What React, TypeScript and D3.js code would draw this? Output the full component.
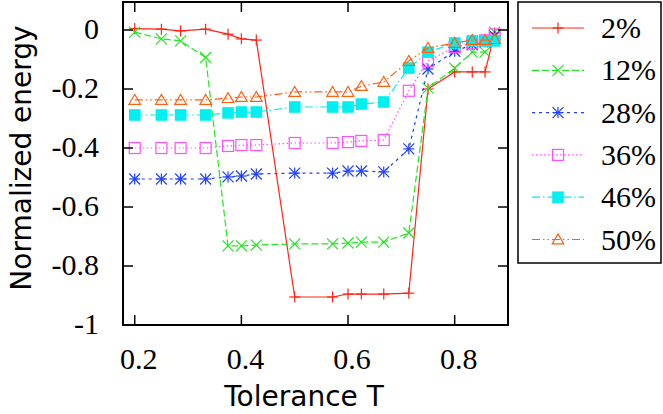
import React from "react";
import * as d3 from "d3";

const tolerance = [0.2, 0.25, 0.286, 0.333, 0.375, 0.4, 0.428, 0.5, 0.571, 0.6, 0.625, 0.667, 0.714, 0.75, 0.8, 0.833, 0.857, 0.875];
const s2 = [0.005, 0.003, -0.003, 0.003, -0.014, -0.03, -0.034, -0.905, -0.905, -0.895, -0.895, -0.895, -0.892, -0.2, -0.142, -0.142, -0.142, -0.01];
const s12 = [-0.007, -0.03, -0.037, -0.093, -0.732, -0.732, -0.729, -0.725, -0.725, -0.722, -0.719, -0.719, -0.688, -0.197, -0.129, -0.075, -0.075, -0.007];
const s28 = [-0.505, -0.505, -0.505, -0.505, -0.498, -0.495, -0.488, -0.485, -0.485, -0.478, -0.478, -0.481, -0.403, -0.132, -0.072, -0.05, -0.04, -0.02];
const s36 = [-0.4, -0.4, -0.4, -0.4, -0.393, -0.39, -0.39, -0.383, -0.383, -0.38, -0.376, -0.373, -0.206, -0.105, -0.058, -0.045, -0.035, -0.015];
const s46 = [-0.288, -0.288, -0.288, -0.288, -0.281, -0.278, -0.278, -0.261, -0.261, -0.261, -0.251, -0.244, -0.129, -0.075, -0.044, -0.037, -0.037, -0.037];
const s50 = [-0.237, -0.237, -0.237, -0.237, -0.231, -0.227, -0.227, -0.21, -0.21, -0.21, -0.19, -0.176, -0.105, -0.061, -0.044, -0.034, -0.034, -0.031];

const seriesLabels = ["2%", "12%", "28%", "36%", "46%", "50%"];
const seriesValues = [s2, s12, s28, s36, s46, s50];
const xTicks = [0.2, 0.4, 0.6, 0.8];
const xTickLabels = ["0.2", "0.4", "0.6", "0.8"];
const yTicks = [0, -0.2, -0.4, -0.6, -0.8, -1];
const yTickLabels = ["0", "-0.2", "-0.4", "-0.6", "-0.8", "-1"];

const styles = [
  { color: "#ff2418", dash: "", marker: "plus" },
  { color: "#22e622", dash: "7,3", marker: "cross" },
  { color: "#2040ff", dash: "3,4", marker: "star" },
  { color: "#ff50ff", dash: "1.5,2.5", marker: "boxOpen" },
  { color: "#00f0f0", dash: "8,3,1.5,3", marker: "boxFilled" },
  { color: "#ff6010", dash: "8,3,1.5,3,1.5,3", marker: "triangle" },
];

const L = 123, R = 508, T = 2, B = 325;
const SERIF = "Liberation Serif";
const SANS = "DejaVu Sans";

function Marker({ kind, x, y, color }: { kind: string; x: number; y: number; color: string }) {
  const sw = 1.2;
  if (kind === "plus") {
    const h = 5.5;
    return (
      <g stroke={color} strokeWidth={sw}>
        <line x1={x - h} y1={y} x2={x + h} y2={y} />
        <line x1={x} y1={y - h} x2={x} y2={y + h} />
      </g>
    );
  }
  if (kind === "cross") {
    const h = 5.5;
    return (
      <g stroke={color} strokeWidth={sw}>
        <line x1={x - h} y1={y - h} x2={x + h} y2={y + h} />
        <line x1={x - h} y1={y + h} x2={x + h} y2={y - h} />
      </g>
    );
  }
  if (kind === "star") {
    const h = 5.5;
    return (
      <g stroke={color} strokeWidth={sw}>
        <line x1={x - h} y1={y} x2={x + h} y2={y} />
        <line x1={x} y1={y - h} x2={x} y2={y + h} />
        <line x1={x - h} y1={y - h} x2={x + h} y2={y + h} />
        <line x1={x - h} y1={y + h} x2={x + h} y2={y - h} />
      </g>
    );
  }
  if (kind === "boxOpen") {
    const h = 5.5;
    return <rect x={x - h} y={y - h} width={2 * h} height={2 * h} fill="none" stroke={color} strokeWidth={sw} />;
  }
  if (kind === "boxFilled") {
    const h = 5.8;
    return <rect x={x - h} y={y - h} width={2 * h} height={2 * h} fill={color} stroke="none" />;
  }
  const h = 5.8;
  const d = `M${x - h},${y + h * 0.75}L${x + h},${y + h * 0.75}L${x},${y - h * 0.95}Z`;
  return <path d={d} fill="none" stroke={color} strokeWidth={sw} />;
}

export default function App() {
  const xs = d3.scaleLinear().domain([0.178, 0.9]).range([L, R]);
  const ys = d3.scaleLinear().domain([-1, 0.095]).range([B, T]);

  const line = d3
    .line<[number, number]>()
    .x((d) => xs(d[0]))
    .y((d) => ys(d[1]));

  const legendY = (i: number) => 28 + i * 42.3;

  return (
    <svg width={663} height={414} style={{ position: "absolute", left: 0, top: 0, background: "#fff" }}>
      <rect x={0} y={0} width={663} height={414} fill="#fff" />
      {seriesValues.map((vals, si) => {
        const st = styles[si];
        const pts: [number, number][] = tolerance.map((t, i) => [t, vals[i]]);
        return (
          <g key={si}>
            <path d={line(pts) || ""} fill="none" stroke={st.color} strokeWidth={1.2} strokeDasharray={st.dash || undefined} />
            {pts.map((p, i) => (
              <Marker key={i} kind={st.marker} x={xs(p[0])} y={ys(p[1])} color={st.color} />
            ))}
          </g>
        );
      })}
      <rect x={L} y={T} width={R - L} height={B - T} fill="none" stroke="#000" strokeWidth={2} />
      {xTicks.map((t, i) => (
        <g key={"x" + i}>
          <line x1={xs(t)} x2={xs(t)} y1={B} y2={B - 10} stroke="#000" strokeWidth={1.5} />
          <line x1={xs(t)} x2={xs(t)} y1={T} y2={T + 10} stroke="#000" strokeWidth={1.5} />
          <text x={xs(t) + 4} y={369} textAnchor="middle" style={{ fontFamily: SERIF }} fontSize={30} fill="#000">
            {xTickLabels[i]}
          </text>
        </g>
      ))}
      {yTicks.map((t, i) => (
        <g key={"y" + i}>
          <line x1={L} x2={L + 10} y1={ys(t)} y2={ys(t)} stroke="#000" strokeWidth={1.5} />
          <line x1={R} x2={R - 10} y1={ys(t)} y2={ys(t)} stroke="#000" strokeWidth={1.5} />
          <text x={99} y={ys(t) + 9} textAnchor="end" style={{ fontFamily: SERIF }} fontSize={30} fill="#000">
            {yTickLabels[i]}
          </text>
        </g>
      ))}
      <text x={304} y={406} textAnchor="middle" style={{ fontFamily: SANS }} fontSize={28} fill="#000">
        Tolerance T
      </text>
      <text transform="translate(31,158) rotate(-90)" textAnchor="middle" style={{ fontFamily: SANS }} fontSize={28} fill="#000">
        Normalized energy
      </text>
      <rect x={518} y={2} width={143} height={261} fill="#fff" stroke="#000" strokeWidth={1.5} />
      {seriesLabels.map((lab, i) => {
        const st = styles[i];
        const y = legendY(i);
        return (
          <g key={"l" + i}>
            <line x1={532} x2={584} y1={y} y2={y} stroke={st.color} strokeWidth={1.2} strokeDasharray={st.dash || undefined} />
            <Marker kind={st.marker} x={558} y={y} color={st.color} />
            <text x={601} y={y + 10} style={{ fontFamily: SERIF }} fontSize={30} fill="#000">
              {lab}
            </text>
          </g>
        );
      })}
    </svg>
  );
}
